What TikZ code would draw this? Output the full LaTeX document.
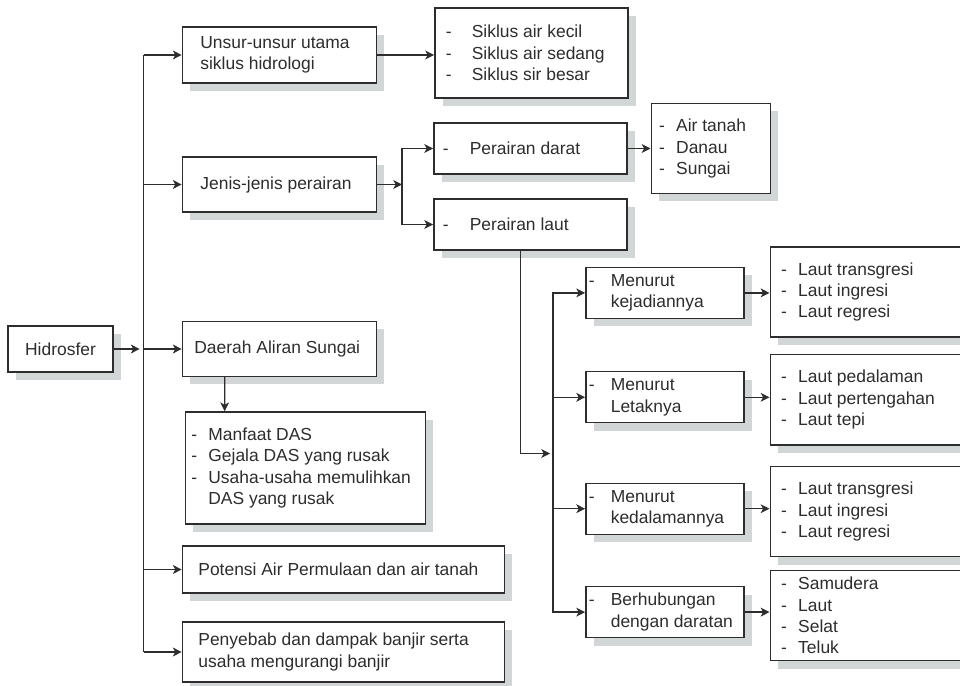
\documentclass[tikz,border=0pt]{standalone}
\usepackage{fontspec}
\setmainfont{Liberation Sans}
\usetikzlibrary{positioning,shadows,arrows.meta}

\definecolor{ink}{RGB}{45,45,45}
\definecolor{shadowgray}{RGB}{211,214,214}
\newcommand{\dashitem}[1][4.25mm]{\makebox[#1][l]{-}}

\begin{document}
\begin{tikzpicture}[
  box/.style={
    draw=ink,
    line width=0.35mm,
    fill=white,
    text=ink,
    align=flush left,
    font=\fontsize{12.4pt}{15.2pt}\selectfont,
    inner ysep=0pt,
    drop shadow={shadow xshift=2mm, shadow yshift=-2mm, fill=shadowgray, opacity=1}
  },
  root/.style={box, align=center, minimum width=26.25mm, minimum height=11.5mm, inner xsep=0pt},
  main/.style={box, inner xsep=4.5mm, text width=39.5mm, minimum height=13.75mm},
  wide/.style={box, inner xsep=4mm, text width=72.5mm},
  sub/.style={box, inner xsep=2.25mm, text width=43.75mm, minimum height=12.75mm},
  kind/.style={box, inner xsep=0.75mm, text width=38mm, minimum height=12.75mm},
  list/.style={box, inner xsep=2.75mm, text width=42.75mm, minimum height=22.5mm},
  wire/.style={draw=ink, line width=0.35mm},
  line/.style={wire, -{Stealth[length=2.2mm, width=2.2mm, inset=0.6mm]}}
]
\useasboundingbox (-15.125mm,-84mm) rectangle (224.875mm,87.25mm);

\node[root] (hidro) {Hidrosfer};

\node[main, right=17mm of hidro, yshift=73.5mm, minimum height=14mm] (unsur) {Unsur-unsur utama\\siklus hidrologi};
\node[main, right=17mm of hidro, yshift=41.125mm] (jenis) {Jenis-jenis perairan};
\node[main, right=17mm of hidro, inner xsep=3mm, text width=42.5mm] (daerah) {Daerah Aliran Sungai};
\node[wide, right=17mm of hidro, yshift=-55.125mm, minimum height=11.75mm] (potensi) {Potensi Air Permulaan dan air tanah};
\node[wide, right=17mm of hidro, yshift=-75.75mm, minimum height=15mm] (penyebab) {Penyebab dan dampak banjir serta\\usaha mengurangi banjir};

\node[list, right=14.25mm of unsur, yshift=0.5mm] (siklus) {\dashitem[6.5mm]Siklus air kecil\\\dashitem[6.5mm]Siklus air sedang\\\dashitem[6.5mm]Siklus sir besar};
\node[sub, right=14mm of jenis, yshift=9mm] (darat) {\dashitem[6.75mm]Perairan darat};
\node[sub, right=14mm of jenis, yshift=-10mm] (laut) {\dashitem[6.75mm]Perairan laut};
\node[list, right=5.75mm of darat, inner xsep=2mm, text width=25.75mm] (airtanah) {\dashitem Air tanah\\\dashitem Danau\\\dashitem Sungai};

\node[list, below=8.5mm of daerah.south west, anchor=north west, xshift=0.75mm, inner xsep=1.5mm, text width=57mm, minimum height=28mm] (daslist) {\dashitem Manfaat DAS\\\dashitem Gejala DAS yang rusak\\\dashitem Usaha-usaha memulihkan\\\hspace*{4.25mm}DAS yang rusak};

\node[kind, below=4mm of laut.south west, anchor=north west, xshift=38mm] (kejadian) {\dashitem[5.5mm]Menurut\\\hspace*{5.5mm}kejadiannya};
\node[kind, below=13mm of kejadian] (letak) {\dashitem[5.5mm]Menurut\\\hspace*{5.5mm}Letaknya};
\node[kind, below=14.75mm of letak] (kedalaman) {\dashitem[5.5mm]Menurut\\\hspace*{5.5mm}kedalamannya};
\node[kind, below=12.75mm of kedalaman] (hubungan) {\dashitem[5.5mm]Berhubungan\\\hspace*{5.5mm}dengan daratan};

\node[list, right=6.25mm of kejadian, yshift=0.25mm] (kejadianisi) {\dashitem Laut transgresi\\\dashitem Laut ingresi\\\dashitem Laut regresi};
\node[list, right=6.25mm of letak, yshift=-0.625mm] (letakisi) {\dashitem Laut pedalaman\\\dashitem Laut pertengahan\\\dashitem Laut tepi};
\node[list, right=6.25mm of kedalaman, yshift=-0.75mm] (kedalamanisi) {\dashitem Laut transgresi\\\dashitem Laut ingresi\\\dashitem Laut regresi};
\node[list, right=6.25mm of hubungan, yshift=-0.875mm] (hubunganisi) {\dashitem Samudera\\\dashitem Laut\\\dashitem Selat\\\dashitem Teluk};

% trunk from the root
\coordinate[right=7.5mm of hidro] (trunk);
\draw[line, shorten >=1mm] (hidro) -- (trunk);
\draw[wire] (trunk |- unsur.west) -- (trunk |- penyebab.west);
\draw[line] (trunk |- unsur.west) -- (unsur);
\draw[line] (trunk |- jenis.west) -- (jenis);
\draw[line] (trunk |- daerah.west) -- (daerah);
\draw[line] (trunk |- potensi.west) -- (potensi);
\draw[line] (trunk |- penyebab.west) -- (penyebab);

\draw[line] (unsur.east) -- (unsur.east -| siklus.west);
\draw[line] ([xshift=10.75mm]daerah.south west) -- ([xshift=10mm]daslist.north west);

% perairan
\coordinate[right=6.25mm of jenis] (fork);
\draw[line] (jenis) -- (fork);
\draw[line] (fork) |- (darat);
\draw[line] (fork) |- (laut);
\draw[line] (darat) -- (airtanah);

% perairan laut
\coordinate[below=7.5mm of letak.south west, xshift=-8mm] (branch);
\draw[line, shorten >=0.75mm] ([xshift=-2.4mm]laut.south) |- (branch);
\draw[line] (branch) |- (kejadian);
\draw[line] (branch) |- (letak);
\draw[line] (branch) |- (kedalaman);
\draw[line] (branch) |- (hubungan);

\draw[line] (kejadian.east) -- (kejadian.east -| kejadianisi.west);
\draw[line] (letak.east) -- (letak.east -| letakisi.west);
\draw[line] (kedalaman.east) -- (kedalaman.east -| kedalamanisi.west);
\draw[line] (hubungan.east) -- (hubungan.east -| hubunganisi.west);
\end{tikzpicture}
\end{document}
